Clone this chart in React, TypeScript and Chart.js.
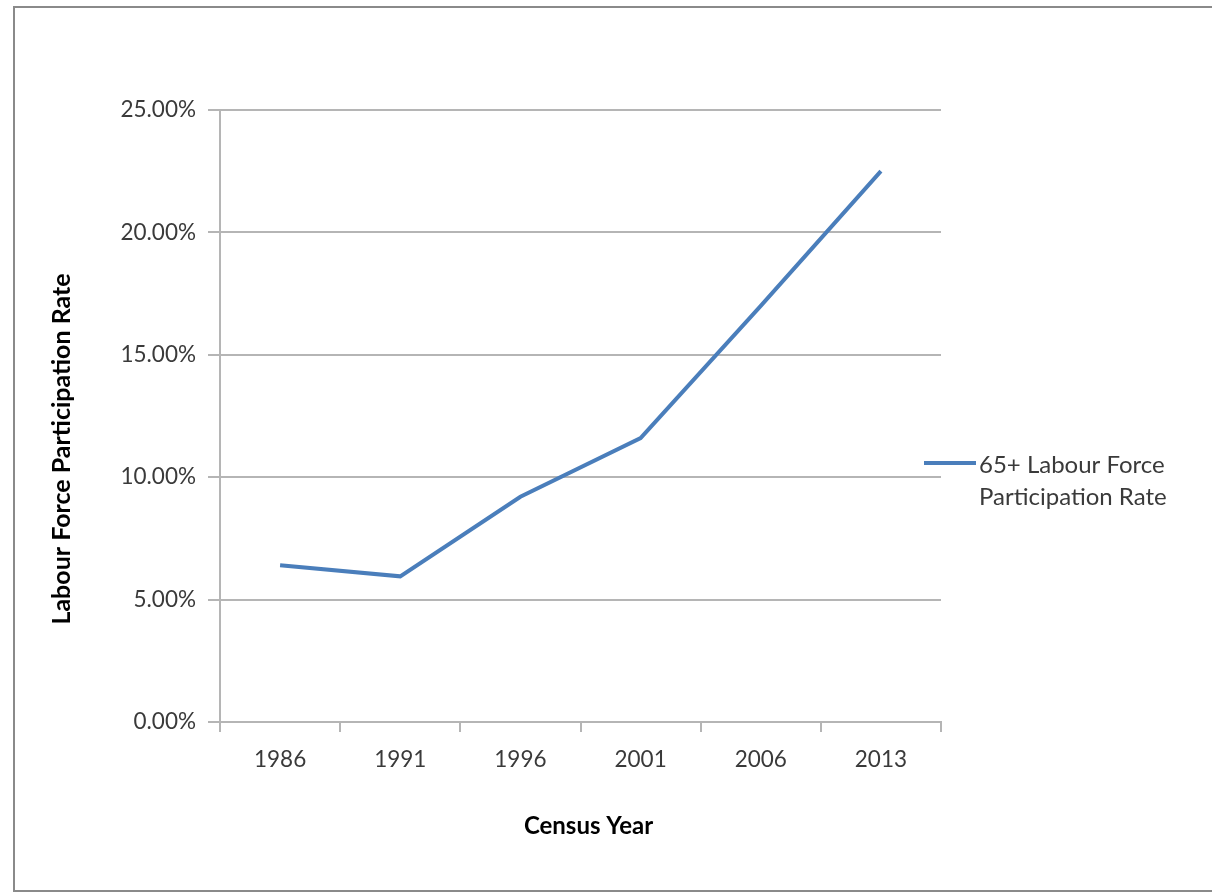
import React, { useEffect, useRef } from 'react';
import { Chart, registerables } from 'chart.js';

Chart.register(...registerables);

const censusYears = ['1986', '1991', '1996', '2001', '2006', '2013'];
const participationRates = [6.4, 5.95, 9.2, 11.6, 17.0, 22.5];
const seriesLabelLines = ['65+ Labour Force', 'Participation Rate'];
const xAxisTitle = 'Census Year';
const yAxisTitle = 'Labour Force Participation Rate';

const LINE_COLOR = '#4a7ebb';
const GRID_COLOR = '#b5b5b5';
const TEXT_COLOR = '#3a3a3a';
const FONT = 'Lato, "Open Sans", sans-serif';

export default function App() {
  const ref = useRef<HTMLCanvasElement>(null);

  useEffect(() => {
    document.body.style.margin = '0';
    const framePlugin = {
      id: 'frame',
      beforeDraw(chart: any) {
        const ctx = chart.ctx;
        ctx.save();
        ctx.fillStyle = '#ffffff';
        ctx.fillRect(0, 0, chart.width, chart.height);
        ctx.strokeStyle = '#8a8a8a';
        ctx.lineWidth = 2;
        ctx.strokeRect(14, 7, 1210, 884);
        ctx.restore();
      },
      afterDraw(chart: any) {
        const ctx = chart.ctx;
        const area = chart.chartArea;
        const ds = chart.data.datasets[0];
        ctx.save();
        // legend
        ctx.strokeStyle = ds.borderColor;
        ctx.lineWidth = 4;
        ctx.beginPath();
        ctx.moveTo(924, 463);
        ctx.lineTo(976, 463);
        ctx.stroke();
        ctx.fillStyle = TEXT_COLOR;
        ctx.font = `24px ${FONT}`;
        ctx.textBaseline = 'middle';
        ctx.textAlign = 'left';
        seriesLabelLines.forEach((t, i) => ctx.fillText(t, 979, 465 + i * 32));
        // axis titles
        ctx.fillStyle = '#000000';
        ctx.textAlign = 'center';
        ctx.font = `bold 24px ${FONT}`;
        ctx.fillText(xAxisTitle, (area.left + area.right) / 2 + 8, 826);
        ctx.translate(62, (area.top + area.bottom) / 2 + 33);
        ctx.rotate(-Math.PI / 2);
        ctx.font = `bold 25px ${FONT}`;
        ctx.fillText(yAxisTitle, 0, 0);
        ctx.restore();
      },
    };

    const chart = new Chart(ref.current as HTMLCanvasElement, {
      type: 'line',
      data: {
        labels: censusYears,
        datasets: [
          {
            label: seriesLabelLines.join(' '),
            data: participationRates,
            borderColor: LINE_COLOR,
            backgroundColor: LINE_COLOR,
            borderWidth: 4,
            pointRadius: 0,
            tension: 0,
            fill: false,
          },
        ],
      },
      options: {
        responsive: false,
        animation: false,
        devicePixelRatio: 1,
        layout: { padding: { top: 110, right: 271, bottom: 0, left: 0 } },
        plugins: {
          legend: { display: false },
          tooltip: { enabled: false },
        },
        scales: {
          x: {
            offset: true,
            grid: {
              offset: true,
              drawOnChartArea: false,
              drawTicks: true,
              tickLength: 10,
              color: GRID_COLOR,
              lineWidth: 2,
            },
            border: { display: true, color: GRID_COLOR, width: 2 },
            ticks: { color: TEXT_COLOR, font: { family: FONT, size: 22.5 }, padding: 14 },
            afterFit(scale: any) {
              scale.height = 171;
            },
          },
          y: {
            min: 0,
            max: 25,
            ticks: {
              stepSize: 5,
              color: TEXT_COLOR,
              font: { family: FONT, size: 22.5 },
              padding: 12,
              callback: (v: any) => Number(v).toFixed(2) + '%',
            },
            grid: { color: GRID_COLOR, lineWidth: 2, tickLength: 12, drawTicks: true },
            border: { display: true, color: GRID_COLOR, width: 2 },
            afterFit(scale: any) {
              scale.width = 220;
            },
          },
        },
      },
      plugins: [framePlugin],
    } as any);
    return () => chart.destroy();
  }, []);

  return (
    <div style={{ width: 1212, height: 893 }}>
      <canvas ref={ref} width={1212} height={893} style={{ display: 'block' }} />
    </div>
  );
}
